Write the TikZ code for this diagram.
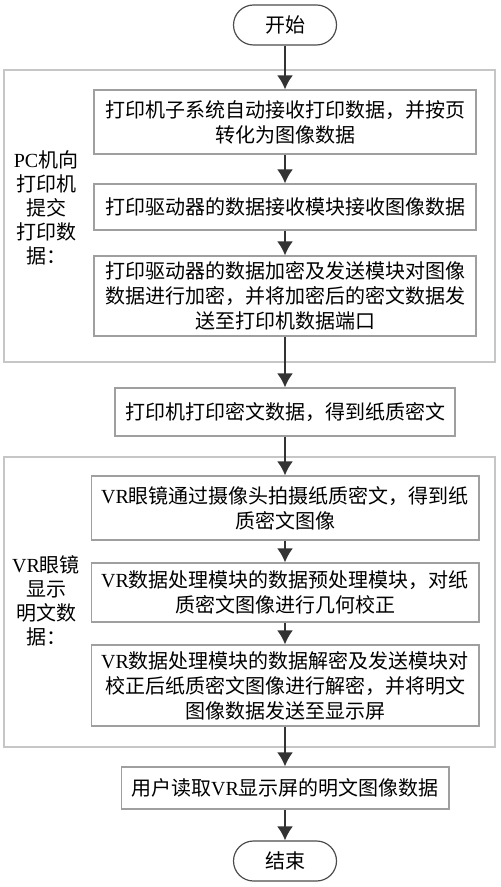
\documentclass[tikz,border=0pt]{standalone}
\usepackage{fontspec}
\setmainfont{Liberation Serif}
\newfontfamily\cjkfont{Noto Sans CJK SC}
\newfontfamily\latfont{Liberation Serif}
\usetikzlibrary{positioning,arrows.meta}
\tikzset{>={Latex[length=7pt,width=8pt]}}
\tikzset{
  stepbox/.style={rectangle, draw=gray!75, line width=0.6pt, align=center,
    font=\cjkfont\fontsize{10}{12.5}\selectfont, inner xsep=5pt, inner ysep=2pt},
  widebox/.style={stepbox, minimum width=191pt},
  termbox/.style={rectangle, draw=black!70, line width=0.6pt, rounded corners=10pt,
    minimum width=51.5pt, minimum height=20pt, font=\cjkfont\fontsize{10}{12}\selectfont},
  flow/.style={->, draw=black!80, line width=1pt},
  groupframe/.style={draw=gray!45, line width=0.6pt},
  grouplabel/.style={align=center, inner sep=0pt, font=\cjkfont\fontsize{10}{12}\selectfont}
}

\begin{document}
\begin{tikzpicture}
  \useasboundingbox (0,0) rectangle (250pt,-443.5pt);
  % group frames
  \draw[groupframe] (2pt,-35pt) rectangle (247.5pt,-181pt);
  \draw[groupframe] (2pt,-228.5pt) rectangle (247.5pt,-373.5pt);
  \node[grouplabel] (pclabel) at (23pt,-104pt) {{\latfont PC}机向\\打印机\\提交\\打印数\\据：};
  \node[grouplabel] (vrlabel) at (23pt,-300.5pt) {{\latfont VR}眼镜\\显示\\明文数\\据：};

  \node[termbox] (start) at (142.5pt,-12.5pt) {开始};
  \node[widebox, minimum height=32pt, below of=start, node distance=48.5pt] (convert) {打印机子系统自动接收打印数据，并按页\\转化为图像数据};
  \node[widebox, minimum height=23pt, below of=convert, node distance=42.5pt] (receive) {打印驱动器的数据接收模块接收图像数据};
  \node[widebox, minimum height=40pt, below of=receive, node distance=44.5pt] (encrypt) {打印驱动器的数据加密及发送模块对图像\\数据进行加密，并将加密后的密文数据发\\送至打印机数据端口};
  \node[stepbox, minimum height=24pt, below of=encrypt, node distance=58pt] (print) {打印机打印密文数据，得到纸质密文};
  \node[widebox, minimum height=32pt, below of=print, node distance=48pt] (capture) {{\latfont VR}眼镜通过摄像头拍摄纸质密文，得到纸\\质密文图像};
  \node[widebox, minimum height=29.5pt, below of=capture, node distance=42.25pt] (correct) {{\latfont VR}数据处理模块的数据预处理模块，对纸\\质密文图像进行几何校正};
  \node[widebox, minimum height=40.5pt, below of=correct, node distance=46.5pt] (decrypt) {{\latfont VR}数据处理模块的数据解密及发送模块对\\校正后纸质密文图像进行解密，并将明文\\图像数据发送至显示屏};
  \node[stepbox, minimum height=21pt, below of=decrypt, node distance=51.25pt] (read) {用户读取{\latfont VR}显示屏的明文图像数据};
  \node[termbox, below of=read, node distance=36.5pt] (end) {结束};

  \draw[flow] (start) -- (convert);
  \draw[flow] (convert) -- (receive);
  \draw[flow] (receive) -- (encrypt);
  \draw[flow] (encrypt) -- (print);
  \draw[flow] (print) -- (capture);
  \draw[flow] (capture) -- (correct);
  \draw[flow] (correct) -- (decrypt);
  \draw[flow] (decrypt) -- (read);
  \draw[flow] (read) -- (end);
\end{tikzpicture}
\end{document}
